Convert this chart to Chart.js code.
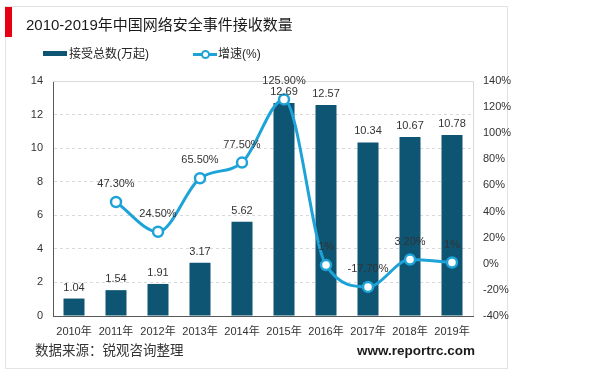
<!DOCTYPE html>
<html>
<head>
<meta charset="utf-8">
<script src="https://cdn.jsdelivr.net/npm/chart.js@4.4.1/dist/chart.umd.min.js"></script>
<style>
  html, body { margin: 0; padding: 0; background: #fff; }
  #wrap { position: relative; width: 600px; height: 375px; overflow: hidden;
    font-family: "Liberation Sans", "Noto Sans CJK SC", sans-serif; }
  #frame { position: absolute; left: 5px; top: 6px; width: 503px; height: 363px;
    border: 1px solid #e3e3e3; box-sizing: border-box; }
  #redbar { position: absolute; left: 5px; top: 7px; width: 7px; height: 30px; background: #e60012; }
  #title { position: absolute; left: 26px; top: 15px; font-size: 15px; color: #1a1a1a; line-height: 20px; white-space: nowrap; }
  .lg { position: absolute; font-size: 12px; color: #262626; line-height: 16px; top: 46px; white-space: nowrap; }
  #sw1 { position: absolute; left: 43px; top: 51px; width: 24px; height: 5px; background: #0e5573; }
  #sw2 { position: absolute; left: 193px; top: 52.5px; width: 24px; height: 3px; background: #1ea3d8; }
  #sw2c { position: absolute; left: 200.5px; top: 49.5px; width: 5px; height: 5px; border: 2px solid #1ea3d8; background: #fff; border-radius: 50%; }
  #src { position: absolute; left: 35px; top: 342px; font-size: 13.5px; color: #333; line-height: 18px; white-space: nowrap; }
  #web { position: absolute; left: 357px; top: 342px; font-size: 13.5px; font-weight: bold; color: #1a1a1a; line-height: 18px; white-space: nowrap; }
  canvas { position: absolute; left: 0; top: 0; }
</style>
</head>
<body>
<div id="wrap">
  <div id="frame"></div>
  <canvas id="c" width="600" height="375"></canvas>
  <div id="redbar"></div>
  <div id="title">2010-2019年中国网络安全事件接收数量</div>
  <div id="sw1"></div><div class="lg" style="left:69px">接受总数(万起)</div>
  <div id="sw2"></div><div id="sw2c"></div><div class="lg" style="left:218px">增速(%)</div>
  <div id="src">数据来源：锐观咨询整理</div>
  <div id="web">www.reportrc.com</div>
</div>
<script>
const categories = ["2010年","2011年","2012年","2013年","2014年","2015年","2016年","2017年","2018年","2019年"];
const totals = [1.04, 1.54, 1.91, 3.17, 5.62, 12.69, 12.57, 10.34, 10.67, 10.78];
const totalLabels = ["1.04","1.54","1.91","3.17","5.62","12.69","12.57","10.34","10.67","10.78"];
const growth = [null, 47.3, 24.5, 65.5, 77.5, 125.9, -1, -17.7, 3.2, 1];
const growthLabels = ["", "47.30%", "24.50%", "65.50%", "77.50%", "125.90%", "1%", "-17.70%", "3.20%", "1%"];
const leftTicks = [0, 2, 4, 6, 8, 10, 12, 14];
const rightTicks = [-40, -20, 0, 20, 40, 60, 80, 100, 120, 140];

const BAR = '#0e5573';
const LINE = '#1ea3d8';
const FONT = '"Liberation Sans", "Noto Sans CJK SC", sans-serif';

const framePlugin = {
  id: 'framePlugin',
  beforeDatasetsDraw(chart) {
    const {ctx, chartArea: a} = chart;
    ctx.save();
    ctx.strokeStyle = '#d9d9d9';
    ctx.lineWidth = 1;
    ctx.beginPath();
    ctx.moveTo(a.left, a.top + 0.5);
    ctx.lineTo(a.right + 0.5, a.top + 0.5);
    ctx.lineTo(a.right + 0.5, a.bottom);
    ctx.stroke();
    ctx.restore();
  }
};

const labelPlugin = {
  id: 'labelPlugin',
  afterDatasetsDraw(chart) {
    const ctx = chart.ctx;
    ctx.save();
    ctx.font = '11px ' + FONT;
    ctx.fillStyle = '#333';
    ctx.textAlign = 'center';
    ctx.textBaseline = 'middle';
    chart.getDatasetMeta(0).data.forEach((el, i) => {
      ctx.fillText(totalLabels[i], el.x, el.y - 11);
    });
    chart.getDatasetMeta(1).data.forEach((el, i) => {
      if (growth[i] === null) return;
      ctx.fillText(growthLabels[i], el.x, el.y - 18);
    });
    ctx.restore();
  }
};

new Chart(document.getElementById('c'), {
  data: {
    labels: categories,
    datasets: [
      {
        type: 'bar', label: '接受总数(万起)', data: totals, yAxisID: 'y',
        backgroundColor: BAR, barPercentage: 0.5, categoryPercentage: 1.0, order: 2
      },
      {
        type: 'line', label: '增速(%)', data: growth, yAxisID: 'y1',
        borderColor: LINE, borderWidth: 3, tension: 0.4, cubicInterpolationMode: 'monotone',
        pointRadius: 5, pointBorderWidth: 2.5, pointBackgroundColor: '#fff', pointBorderColor: LINE,
        spanGaps: false, order: 1
      }
    ]
  },
  options: {
    responsive: false,
    animation: false,
    layout: { padding: { top: 81, left: 0, right: 0, bottom: 0 } },
    plugins: { legend: { display: false }, tooltip: { enabled: false } },
    scales: {
      x: {
        offset: true,
        grid: { display: false, drawTicks: false },
        border: { color: '#595959', width: 1 },
        ticks: { font: { size: 11, family: FONT }, color: '#333', padding: 9, maxRotation: 0, autoSkip: false },
        afterFit(s) { s.height = 59; }
      },
      y: {
        position: 'left', min: 0, max: 14,
        afterBuildTicks(s) { s.ticks = leftTicks.map(v => ({value: v})); },
        grid: { color: c => (c.tick && c.tick.value === 0) ? 'rgba(0,0,0,0)' : '#d9d9d9', drawTicks: false, lineWidth: 1 },
        border: { color: '#595959', width: 1, dash: [3, 3] },
        ticks: { font: { size: 11, family: FONT }, color: '#333', padding: 10 },
        afterFit(s) { s.width = 53; }
      },
      y1: {
        position: 'right', min: -40, max: 140,
        afterBuildTicks(s) { s.ticks = rightTicks.map(v => ({value: v})); },
        grid: { drawOnChartArea: false, drawTicks: false },
        border: { display: false },
        ticks: { font: { size: 11, family: FONT }, color: '#333', padding: 10, callback: v => v + '%' },
        afterFit(s) { s.width = 127; }
      }
    }
  },
  plugins: [framePlugin, labelPlugin]
});
</script>
</body>
</html>
